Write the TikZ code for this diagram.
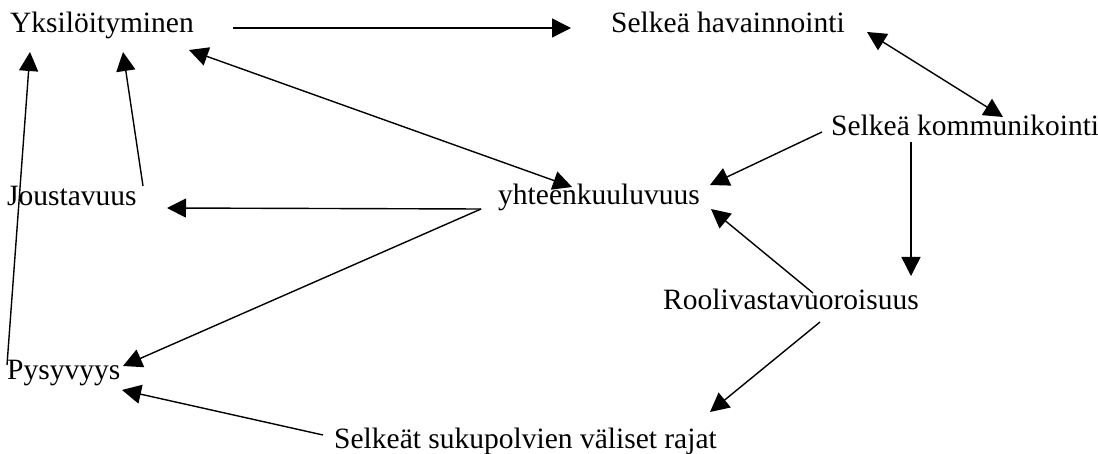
\documentclass[tikz,border=0pt]{standalone}
\usepackage{fontspec}
\setmainfont{Liberation Serif}
\usetikzlibrary{arrows.meta}
\begin{document}
\begin{tikzpicture}[x=1pt,y=-1pt,
  lbl/.style={anchor=base west,inner sep=0pt,font=\fontsize{29.5}{34}\selectfont},
  tip/.style={Triangle[length=19pt,width=19pt]},
  conn/.style={line width=1.4pt,-{Triangle[length=19pt,width=19pt]}},
  dconn/.style={line width=1.4pt,{Triangle[length=19pt,width=19pt]}-{Triangle[length=19pt,width=19pt]}}]
\useasboundingbox[fill=white] (0,0) rectangle (1098,454);
% texts
\node[lbl] (Y) at (10,33) {Yksilöityminen};
\node[lbl] (H) at (611,33) {Selkeä havainnointi};
\node[lbl] (K) at (831,136) {Selkeä kommunikointi};
\node[lbl] (J) at (7,206) {Joustavuus};
\node[lbl] (T) at (498,205) {yhteenkuuluvuus};
\node[lbl] (R) at (663,310) {Roolivastavuoroisuus};
\node[lbl] (P) at (7,380) {Pysyvyys};
\node[lbl] (S) at (334,448) {Selkeät sukupolvien väliset rajat};
% connector end points
\coordinate (y1) at (233,28);   \coordinate (h1) at (571,28);
\coordinate (j1) at (143,186);  \coordinate (y2) at (123,52);
\coordinate (p1) at (7,365);    \coordinate (y3) at (30,52);
\coordinate (y4) at (189,50);   \coordinate (t1) at (572,187);
\coordinate (t0) at (481,209);  \coordinate (j2) at (167,208);
\coordinate (p2) at (123,366);
\coordinate (h2) at (867,32);   \coordinate (k1) at (1003,117);
\coordinate (k2) at (822,132);  \coordinate (t2) at (710,185);
\coordinate (k3) at (911,142);  \coordinate (r1) at (911,276);
\coordinate (r2) at (813,293);  \coordinate (t3) at (711,209);
\coordinate (r3) at (820,322);  \coordinate (s1) at (710,412);
\coordinate (s2) at (323,435);  \coordinate (p3) at (122,390);
% connectors
\draw[conn] (y1) -- (h1);
\draw[conn] (j1) -- (y2);
\draw[conn] (p1) -- (y3);
\draw[dconn] (y4) -- (t1);
\draw[conn] (t0) -- (j2);
\draw[conn] (t0) -- (p2);
\draw[dconn] (h2) -- (k1);
\draw[conn] (k2) -- (t2);
\draw[conn] (k3) -- (r1);
\draw[conn] (r2) -- (t3);
\draw[conn] (r3) -- (s1);
\draw[conn] (s2) -- (p3);
\end{tikzpicture}
\end{document}
